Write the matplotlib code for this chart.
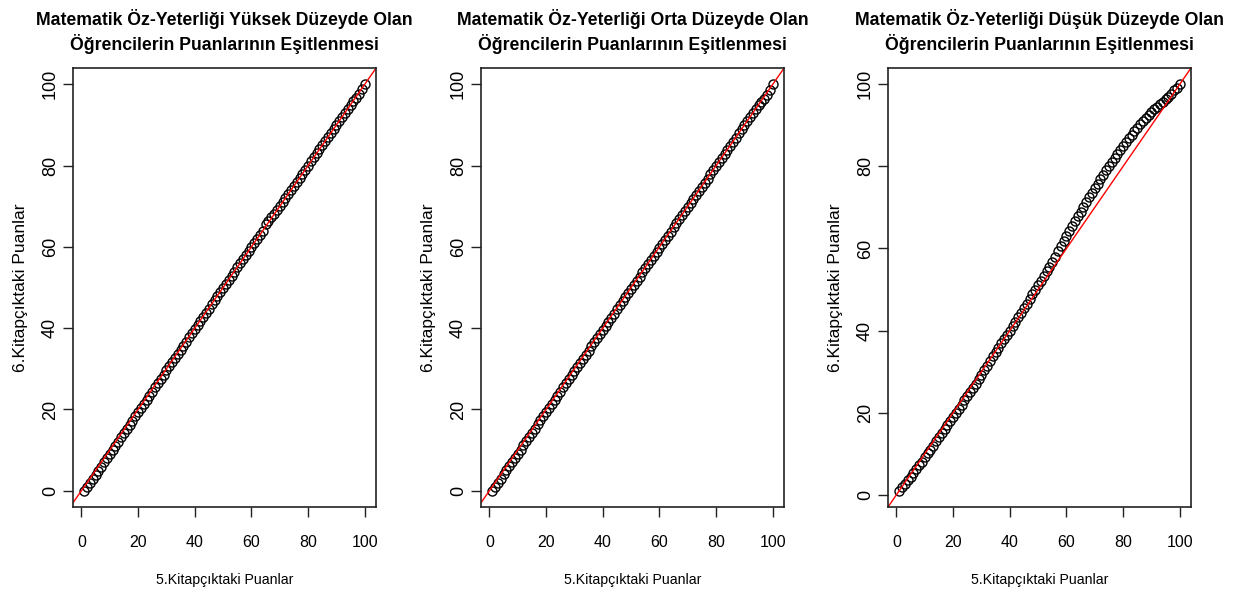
import numpy as np
import matplotlib
matplotlib.use("Agg")
import matplotlib.pyplot as plt

plt.rcParams["font.family"] = ["Liberation Sans", "DejaVu Sans"]

# 5. kitapcik puanlari
x_puan = list(range(1, 101))

# esitlenmis 6. kitapcik puanlari (oz-yeterlik duzeyine gore)
y_yuksek = [0.0, 0.9, 1.9, 2.9, 3.9, 4.9, 5.9, 7.0, 8.0, 9.0,
            10.0, 11.1, 12.1, 13.1, 14.1, 15.2, 16.2, 17.2, 18.3, 19.3,
            20.3, 21.3, 22.4, 23.4, 24.4, 25.5, 26.5, 27.5, 28.5, 29.6,
            30.6, 31.6, 32.6, 33.6, 34.7, 35.7, 36.7, 37.7, 38.7, 39.8,
            40.8, 41.8, 42.8, 43.8, 44.8, 45.9, 46.9, 47.9, 48.9, 49.9,
            50.9, 51.9, 52.9, 53.9, 55.0, 56.0, 57.0, 58.0, 59.0, 60.0,
            61.0, 62.0, 63.0, 64.0, 65.6, 66.4, 67.3, 68.2, 69.1, 70.1,
            71.0, 72.0, 73.0, 74.0, 75.0, 76.0, 77.0, 78.0, 79.0, 80.0,
            81.0, 82.0, 83.0, 84.0, 85.0, 86.0, 87.0, 88.0, 89.0, 90.0,
            91.0, 92.0, 93.0, 94.0, 95.0, 95.8, 96.6, 97.6, 98.8, 100.0]

y_orta = [0.0, 1.0, 2.0, 3.0, 4.0, 5.0, 6.1, 7.1, 8.1, 9.1,
          10.1, 11.2, 12.2, 13.2, 14.2, 15.2, 16.3, 17.3, 18.3, 19.3,
          20.3, 21.3, 22.4, 23.4, 24.4, 25.4, 26.4, 27.4, 28.4, 29.5,
          30.5, 31.5, 32.5, 33.5, 34.5, 35.5, 36.5, 37.5, 38.6, 39.6,
          40.6, 41.6, 42.6, 43.6, 44.6, 45.6, 46.6, 47.6, 48.6, 49.6,
          50.6, 51.7, 52.7, 53.7, 54.7, 55.7, 56.7, 57.7, 58.7, 59.7,
          60.7, 61.7, 62.7, 63.7, 64.8, 65.8, 66.8, 67.8, 68.8, 69.8,
          70.8, 71.8, 72.8, 73.8, 74.8, 75.8, 76.8, 77.8, 78.8, 79.8,
          80.8, 81.8, 82.8, 83.8, 84.8, 85.8, 86.8, 87.9, 88.9, 89.9,
          90.9, 91.9, 92.9, 93.9, 94.9, 95.6, 96.4, 97.4, 98.6, 100.0]

y_dusuk = [1.0, 1.8, 2.6, 3.5, 4.4, 5.3, 6.2, 7.2, 8.1, 9.1,
           10.1, 11.0, 12.0, 13.0, 14.0, 15.0, 16.0, 17.0, 18.0, 19.0,
           20.0, 21.0, 22.0, 23.0, 24.0, 25.1, 26.1, 27.1, 28.2, 29.3,
           30.4, 31.5, 32.6, 33.7, 34.8, 35.8, 36.9, 38.0, 39.0, 40.0,
           41.1, 42.1, 43.2, 44.3, 45.4, 46.5, 47.6, 48.8, 49.9, 51.0,
           52.2, 53.3, 54.5, 55.6, 56.8, 58.0, 59.3, 60.6, 61.9, 63.1,
           64.3, 65.4, 66.6, 67.8, 69.0, 70.2, 71.4, 72.5, 73.6, 74.7,
           75.8, 76.9, 78.0, 79.1, 80.1, 81.1, 82.1, 83.1, 84.1, 85.0,
           85.9, 86.8, 87.7, 88.6, 89.4, 90.2, 91.0, 91.8, 92.5, 93.2,
           93.9, 94.5, 95.1, 95.7, 96.3, 97.0, 97.7, 98.5, 99.2, 100.0]

basliklar = [
    "Matematik Öz-Yeterliği Yüksek Düzeyde Olan\nÖğrencilerin Puanlarının Eşitlenmesi",
    "Matematik Öz-Yeterliği Orta Düzeyde Olan\nÖğrencilerin Puanlarının Eşitlenmesi",
    "Matematik Öz-Yeterliği Düşük Düzeyde Olan\nÖğrencilerin Puanlarının Eşitlenmesi",
]
x_etiket = "5.Kitapçıktaki Puanlar"
y_etiket = "6.Kitapçıktaki Puanlar"
tikler = [0, 20, 40, 60, 80, 100]

W, H = 1248, 592
fig = plt.figure(figsize=(W / 100, H / 100), dpi=100)

sollar = [73, 481, 888]
seriler = [y_yuksek, y_orta, y_dusuk]

for sol, y, baslik in zip(sollar, seriler, basliklar):
    ax = fig.add_axes([sol / W, (H - 507) / H, 303 / W, 439 / H])
    ax.plot(x_puan, y, linestyle="none", marker="o", markersize=6.5,
            markerfacecolor="none", markeredgecolor="black", markeredgewidth=1.0)
    # R tarzi eksen genisletmesi (%4)
    xr = max(x_puan) - min(x_puan)
    yr = max(y) - min(y)
    ax.set_xlim(min(x_puan) - 0.04 * xr, max(x_puan) + 0.04 * xr)
    ax.set_ylim(min(y) - 0.04 * yr, max(y) + 0.04 * yr)
    ax.axline((0, 0), slope=1, color="red", linewidth=1.0)

    ax.set_xticks(tikler)
    ax.set_yticks(tikler)
    ax.set_xticklabels([str(t) for t in tikler], fontsize=11.5)
    ax.set_yticklabels([str(t) for t in tikler], rotation=90, va="center", fontsize=13)
    ax.tick_params(direction="out", length=7, width=1, colors="#222222",
                   labelcolor="black")
    ax.tick_params(axis="x", pad=13)
    ax.tick_params(axis="y", pad=3)
    for s in ax.spines.values():
        s.set_linewidth(1.2)
        s.set_color("#222222")

    ax.set_xlabel(x_etiket, fontsize=10.2, labelpad=17)
    ax.set_ylabel(y_etiket, fontsize=12.5, labelpad=10)
    ax.set_title(baslik, fontsize=12.7, fontweight="bold", pad=13, linespacing=1.3)

fig.savefig("out.png", dpi=100, facecolor="white")
